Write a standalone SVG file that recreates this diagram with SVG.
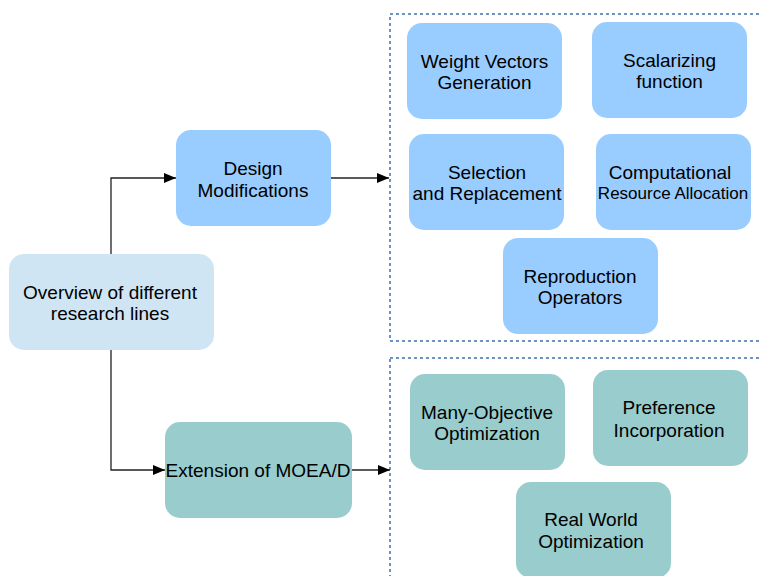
<svg xmlns="http://www.w3.org/2000/svg" width="761" height="576" viewBox="0 0 761 576">
<defs>
<style>
.t{font-family:"Liberation Sans",Arial,sans-serif;font-size:19px;fill:#000;text-anchor:middle}
.s{font-size:17px}
.blue{fill:#99ccff}
.teal{fill:#99cccc}
.light{fill:#cfe5f3}
.grp{fill:none;stroke:#3d6fb5;stroke-width:1.5;stroke-dasharray:3 3}
.c{fill:none;stroke:#222;stroke-width:1.3}
</style>
<marker id="ah" viewBox="0 0 12 10" refX="12" refY="5" markerWidth="12" markerHeight="10" markerUnits="userSpaceOnUse" orient="auto">
<path d="M0,0 L12,5 L0,10 Z" fill="#000"/>
</marker>
</defs>
<rect width="761" height="576" fill="#fff"/>
<g id="groups">
<rect class="grp" x="390" y="14" width="420" height="327"/>
<rect class="grp" x="390" y="358" width="420" height="260"/>
</g>
<g id="connectors">
<path class="c" d="M111,254 V178 H176" marker-end="url(#ah)"/>
<path class="c" d="M331,178 H389" marker-end="url(#ah)"/>
<path class="c" d="M111,349 V470 H165" marker-end="url(#ah)"/>
<path class="c" d="M352,470 H390" marker-end="url(#ah)"/>
</g>
<g id="overview">
<rect class="light" x="9" y="254" width="205" height="96" rx="15"/>
<text class="t" x="110" y="299">Overview of different</text>
<text class="t" x="110" y="320">research lines</text>
</g>
<g id="design">
<rect class="blue" x="176" y="130" width="155" height="96" rx="15"/>
<text class="t" x="253" y="175">Design</text>
<text class="t" x="253" y="197">Modifications</text>
</g>
<g id="extension">
<rect class="teal" x="165" y="422" width="187" height="96" rx="15"/>
<text class="t" x="258" y="477">Extension of MOEA/D</text>
</g>
<g id="weight">
<rect class="blue" x="407" y="23" width="155" height="96" rx="15"/>
<text class="t" x="484.5" y="68">Weight Vectors</text>
<text class="t" x="484.5" y="89">Generation</text>
</g>
<g id="scalarizing">
<rect class="blue" x="592" y="22" width="155" height="96" rx="15"/>
<text class="t" x="669.5" y="67">Scalarizing</text>
<text class="t" x="669.5" y="88">function</text>
</g>
<g id="selection">
<rect class="blue" x="409" y="134" width="155" height="96" rx="15"/>
<text class="t" x="487" y="179">Selection</text>
<text class="t" x="487" y="200">and Replacement</text>
</g>
<g id="computational">
<rect class="blue" x="596" y="134" width="155" height="96" rx="15"/>
<text class="t" x="670" y="179">Computational</text>
<text class="t s" x="673" y="199">Resource Allocation</text>
</g>
<g id="reproduction">
<rect class="blue" x="503" y="238" width="155" height="96" rx="15"/>
<text class="t" x="580" y="283">Reproduction</text>
<text class="t" x="580" y="304">Operators</text>
</g>
<g id="manyobj">
<rect class="teal" x="410" y="374" width="155" height="96" rx="15"/>
<text class="t" x="487" y="419">Many-Objective</text>
<text class="t" x="487" y="440">Optimization</text>
</g>
<g id="preference">
<rect class="teal" x="593" y="370" width="155" height="96" rx="15"/>
<text class="t" x="669" y="414">Preference</text>
<text class="t" x="669" y="437">Incorporation</text>
</g>
<g id="realworld">
<rect class="teal" x="516" y="482" width="155" height="96" rx="15"/>
<text class="t" x="591" y="526">Real World</text>
<text class="t" x="591" y="548">Optimization</text>
</g>
</svg>
